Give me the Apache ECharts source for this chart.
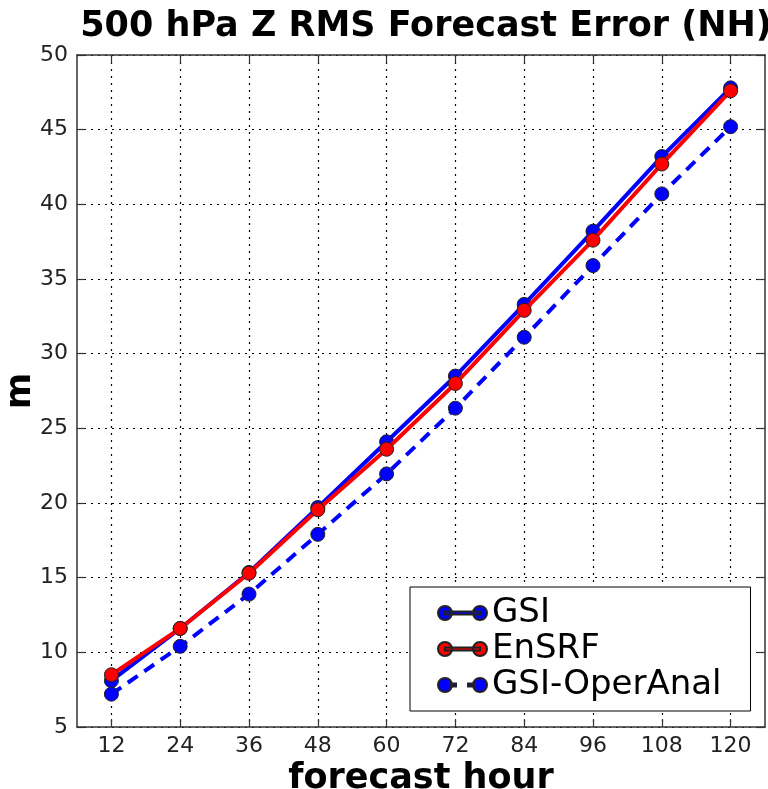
<!DOCTYPE html>
<html>
<head>
<meta charset="utf-8">
<script src="https://cdn.jsdelivr.net/npm/echarts@6/dist/echarts.min.js"></script>
<style>
html,body{margin:0;padding:0;background:#fff;}
#chart{width:768px;height:789px;}
</style>
</head>
<body>
<div id="chart"></div>
<script>
const categories = ['12','24','36','48','60','72','84','96','108','120'];
const gsi = [8.1, 11.6, 15.35, 19.7, 24.1, 28.5, 33.3, 38.2, 43.2, 47.8];
const ensrf = [8.5, 11.6, 15.3, 19.55, 23.6, 28.0, 32.9, 37.6, 42.7, 47.6];
const operAnal = [7.2, 10.4, 13.9, 17.9, 21.95, 26.35, 31.1, 35.9, 40.7, 45.2];
const seriesNames = ['GSI', 'EnSRF', 'GSI-OperAnal'];
const yMin = 5, yMax = 50, yStep = 5;

const FONT = 'DejaVu Sans';
const solidIcon = 'path://M0,7 A7,7 0 1,1 14,7 A7,7 0 1,1 0,7 Z M35,7 A7,7 0 1,1 49,7 A7,7 0 1,1 35,7 Z M7,5.5 L42,5.5 L42,8.5 L7,8.5 Z';
const dashIcon = 'path://M0,7 A7,7 0 1,1 14,7 A7,7 0 1,1 0,7 Z M35,7 A7,7 0 1,1 49,7 A7,7 0 1,1 35,7 Z M12,5.5 L18,5.5 L18,8.5 L12,8.5 Z M30,5.5 L37,5.5 L37,8.5 L30,8.5 Z';

const chart = echarts.init(document.getElementById('chart'), null, {renderer: 'canvas'});
const gridLine = {show: true, lineStyle: {color: '#000', width: 1.2, type: [2, 5]}};
const axisLine = {show: true, onZero: false, lineStyle: {color: '#333', width: 1.5}};
const tick = {show: true, inside: true, length: 8, lineStyle: {color: '#333', width: 1.2}};

function mkSeries(name, data, dashed, z) {
  return {
    name: name, type: 'line', data: data, xAxisIndex: 0, yAxisIndex: 0,
    symbol: 'circle', symbolSize: 14, z: z,
    lineStyle: {color: name === 'EnSRF' ? '#ff0000' : '#0000ff', width: 4, type: dashed ? [12, 8] : 'solid'},
    itemStyle: {color: name === 'EnSRF' ? '#ff0000' : '#0000ff', borderColor: '#222', borderWidth: 1},
    emphasis: {disabled: true},
    animation: false
  };
}

chart.setOption({
  animation: false,
  backgroundColor: '#fff',
  title: {
    text: '500 hPa Z RMS Forecast Error (NH)',
    left: 421, top: 4, textAlign: 'center',
    textStyle: {fontFamily: FONT, fontWeight: 'bold', fontSize: 35, color: '#000'}
  },
  grid: {left: 77, right: 3, top: 55, bottom: 62, containLabel: false, outerBoundsMode: 'none'},
  legend: {
    data: [
      {name: 'GSI', icon: solidIcon},
      {name: 'EnSRF', icon: solidIcon},
      {name: 'GSI-OperAnal', icon: dashIcon}
    ],
    orient: 'vertical', left: 410, top: 587,
    itemWidth: 49, itemHeight: 14, itemGap: 0,
    padding: [8, 29, 8, 27],
    borderColor: '#000', borderWidth: 1, borderRadius: 0,
    backgroundColor: '#fff',
    selectedMode: false,
    textStyle: {fontFamily: FONT, fontSize: 34, color: '#000', lineHeight: 36}
  },
  xAxis: [
    {
      type: 'category', data: categories, boundaryGap: true, position: 'bottom',
      name: 'forecast hour', nameLocation: 'middle', nameGap: 28,
      nameTextStyle: {fontFamily: FONT, fontWeight: 'bold', fontSize: 35, color: '#000'},
      axisLine: axisLine,
      axisTick: Object.assign({alignWithLabel: true}, tick),
      axisLabel: {fontFamily: FONT, fontSize: 22, color: '#222', margin: 8},
      splitLine: Object.assign({alignWithLabel: true}, gridLine)
    },
    {
      type: 'category', data: categories, boundaryGap: true, position: 'top',
      axisLine: axisLine,
      axisTick: Object.assign({alignWithLabel: true}, tick),
      axisLabel: {show: false}, splitLine: {show: false}
    }
  ],
  yAxis: [
    {
      type: 'value', min: yMin, max: yMax, interval: yStep, position: 'left',
      name: 'm', nameLocation: 'middle', nameGap: 39, nameMoveOverlap: false,
      nameTextStyle: {fontFamily: FONT, fontWeight: 'bold', fontSize: 35, color: '#000'},
      axisLine: axisLine, axisTick: tick,
      axisLabel: {fontFamily: FONT, fontSize: 22, color: '#222', margin: 9},
      splitLine: gridLine
    },
    {
      type: 'value', min: yMin, max: yMax, interval: yStep, position: 'right',
      axisLine: axisLine, axisTick: tick,
      axisLabel: {show: false}, splitLine: {show: false}
    }
  ],
  series: [
    mkSeries(seriesNames[0], gsi, false, 2),
    mkSeries(seriesNames[1], ensrf, false, 3),
    mkSeries(seriesNames[2], operAnal, true, 4)
  ]
});
</script>
</body>
</html>
